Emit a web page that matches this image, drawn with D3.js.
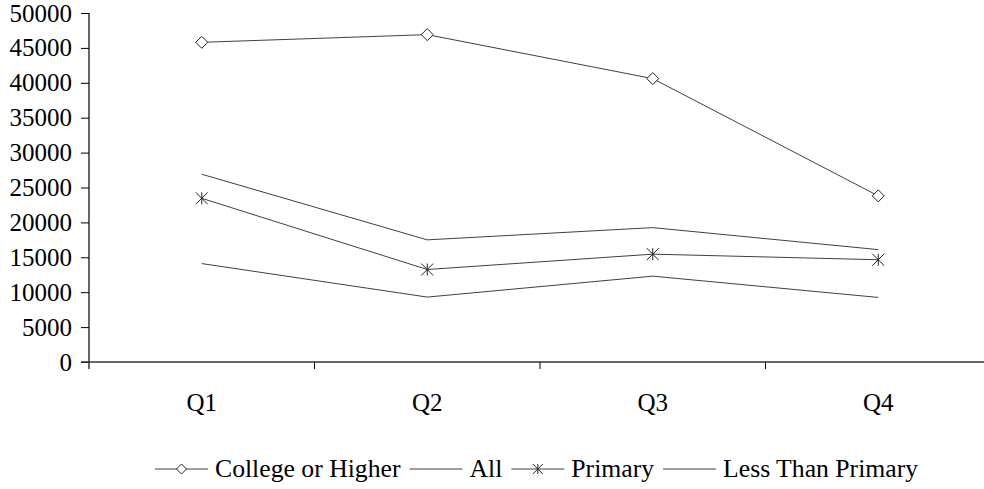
<!DOCTYPE html>
<html>
<head>
<meta charset="utf-8">
<script src="https://cdn.jsdelivr.net/npm/d3@7"></script>
<style>
  body { margin: 0; background: #fff; }
</style>
</head>
<body>
<svg width="984" height="489"></svg>
<script>
// chart values
const quarters = ["Q1", "Q2", "Q3", "Q4"];
const seriesNames = ["College or Higher", "All", "Primary", "Less Than Primary"];
const college = [45800, 46900, 40600, 23800];
const all = [26900, 17500, 19250, 16100];
const primary = [23450, 13250, 15450, 14650];
const lessPrimary = [14100, 9300, 12300, 9250];
const yTicks = [0, 5000, 10000, 15000, 20000, 25000, 30000, 35000, 40000, 45000, 50000];
const markers = ["diamond", "none", "star", "none"];

const svg = d3.select("svg");
const fontFamily = "'Liberation Serif', 'Times New Roman', serif";
const fontSize = 25;
const lineColor = "#404040";

const x = d3.scaleBand().domain(quarters).range([89, 991]).padding(0);
const y = d3.scaleLinear().domain([0, 50000]).range([362, 13]);

const series = [college, all, primary, lessPrimary].map((vals, i) => ({
  name: seriesNames[i],
  marker: markers[i],
  values: vals.map((v, j) => ({ q: quarters[j], v: v }))
}));

// y axis
const yAxis = svg.append("g")
  .attr("transform", `translate(${x.range()[0]},0)`)
  .call(d3.axisLeft(y).tickValues(yTicks).tickSize(8).tickPadding(9).tickFormat(d3.format("d")));
yAxis.select(".domain").attr("d", `M0,${y(50000)}V${y(0) + 7}`);

// x axis: labels at band centres, ticks at band boundaries
const xAxis = svg.append("g")
  .attr("transform", `translate(0,${y(0)})`)
  .call(d3.axisBottom(x).tickSize(0).tickPadding(31));
xAxis.select(".domain").attr("d", `M${x.range()[0] - 8},0H984`);
xAxis.selectAll(".boundary")
  .data(quarters.slice(1))
  .enter().append("line")
  .attr("class", "boundary")
  .attr("x1", d => x(d)).attr("x2", d => x(d))
  .attr("y1", 0).attr("y2", 7)
  .attr("stroke", "#000");

svg.selectAll(".domain").attr("stroke", "#333").attr("stroke-width", 1.5);
svg.selectAll(".tick line").attr("stroke", "#000");
svg.selectAll(".tick text")
  .style("font-family", fontFamily)
  .style("font-size", fontSize + "px")
  .attr("fill", "#000");

// lines
const line = d3.line()
  .x(d => x(d.q) + x.bandwidth() / 2)
  .y(d => y(d.v));

svg.append("g").selectAll("path")
  .data(series)
  .enter().append("path")
  .attr("d", d => line(d.values))
  .attr("fill", "none")
  .attr("stroke", lineColor)
  .attr("stroke-width", 1);

// marker shapes
function drawMarker(g, type, cx, cy, r) {
  if (type === "diamond") {
    g.append("path")
      .attr("d", `M${cx},${cy - r}L${cx + r},${cy}L${cx},${cy + r}L${cx - r},${cy}Z`)
      .attr("fill", "#fff").attr("stroke", "#222").attr("stroke-width", 1);
  } else if (type === "star") {
    g.append("path")
      .attr("d", `M${cx},${cy - r}V${cy + r}M${cx - r},${cy - r}L${cx + r},${cy + r}M${cx + r},${cy - r}L${cx - r},${cy + r}`)
      .attr("fill", "none").attr("stroke", "#222").attr("stroke-width", 1);
  }
}

const markG = svg.append("g");
series.forEach(s => {
  s.values.forEach(d => {
    drawMarker(markG, s.marker, x(d.q) + x.bandwidth() / 2, y(d.v), 6);
  });
});

// legend
const legend = svg.append("g");
let lx = 155;
const ly = 469;
series.forEach(s => {
  legend.append("line")
    .attr("x1", lx).attr("x2", lx + 53)
    .attr("y1", ly).attr("y2", ly)
    .attr("stroke", lineColor).attr("stroke-width", 1);
  drawMarker(legend, s.marker, lx + 26.5, ly, 5);
  const t = legend.append("text")
    .attr("x", lx + 60).attr("y", ly + 8)
    .style("font-family", fontFamily)
    .style("font-size", "25.7px")
    .attr("fill", "#000")
    .text(s.name);
  lx += 60 + t.node().getComputedTextLength() + 9;
});
</script>
</body>
</html>
